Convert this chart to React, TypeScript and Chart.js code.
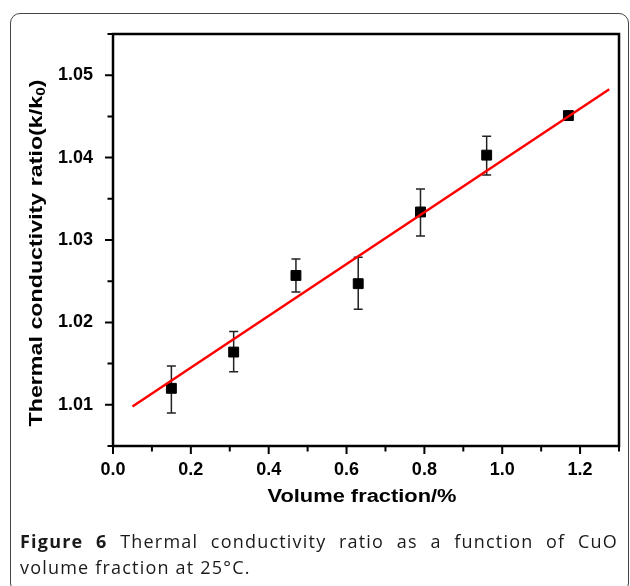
import { useEffect, useRef } from 'react';
import { Chart, registerables } from 'chart.js';

Chart.register(...registerables);

// ---- data ----
const volumeFraction = [0.15, 0.31, 0.47, 0.63, 0.79, 0.96, 1.17];
const conductivityRatio = [1.012, 1.0164, 1.0257, 1.0247, 1.0334, 1.0403, 1.0451];
const errorLow = [1.009, 1.014, 1.0237, 1.0216, 1.0305, 1.0379, 1.0446];
const errorHigh = [1.0147, 1.0189, 1.0277, 1.0279, 1.0362, 1.0426, 1.0456];
const fitX = [0.05, 1.275];
const fitY = [1.0098, 1.0483];
const xMajorTicks = [0, 0.2, 0.4, 0.6, 0.8, 1.0, 1.2];
const xTickLabels = ['0.0', '0.2', '0.4', '0.6', '0.8', '1.0', '1.2'];
const yMajorTicks = [1.01, 1.02, 1.03, 1.04, 1.05];
const yTickLabels = ['1.01', '1.02', '1.03', '1.04', '1.05'];
const xTitle = 'Volume fraction/%';
const yTitleMain = 'Thermal conductivity ratio(k/k';
const yTitleSub = '0';
const yTitleEnd = ')';

const FONT = '"Liberation Sans", Arial, sans-serif';

const majorIndex = (list: number[], v: number) =>
  list.findIndex((t) => Math.abs(t - v) < 1e-6);

const decorPlugin = {
  id: 'decor',
  beforeDatasetsDraw(chart: any) {
    const { ctx, scales } = chart;
    const x = scales.x;
    const y = scales.y;
    ctx.save();
    ctx.strokeStyle = '#222';
    ctx.lineWidth = 1.5;
    volumeFraction.forEach((v, i) => {
      const px = x.getPixelForValue(v);
      const top = y.getPixelForValue(errorHigh[i]);
      const bot = y.getPixelForValue(errorLow[i]);
      ctx.beginPath();
      ctx.moveTo(px, top);
      ctx.lineTo(px, bot);
      ctx.moveTo(px - 4.5, top);
      ctx.lineTo(px + 4.5, top);
      ctx.moveTo(px - 4.5, bot);
      ctx.lineTo(px + 4.5, bot);
      ctx.stroke();
    });
    ctx.restore();
  },
  afterDraw(chart: any) {
    const { ctx, chartArea: a, scales } = chart;
    const x = scales.x;
    const y = scales.y;
    ctx.save();
    // frame
    ctx.strokeStyle = '#000';
    ctx.lineWidth = 2.5;
    ctx.strokeRect(a.left, a.top, a.right - a.left, a.bottom - a.top);
    // ticks
    ctx.lineWidth = 2;
    ctx.beginPath();
    x.ticks.forEach((t: any) => {
      const px = x.getPixelForValue(t.value);
      const len = majorIndex(xMajorTicks, t.value) >= 0 ? 8 : 5.5;
      ctx.moveTo(px, a.bottom);
      ctx.lineTo(px, a.bottom + len);
    });
    y.ticks.forEach((t: any) => {
      const py = y.getPixelForValue(t.value);
      const len = majorIndex(yMajorTicks, t.value) >= 0 ? 8 : 5.5;
      ctx.moveTo(a.left, py);
      ctx.lineTo(a.left - len, py);
    });
    ctx.stroke();

    // x title
    ctx.fillStyle = '#000';
    ctx.font = `bold 18px ${FONT}`;
    ctx.textBaseline = 'middle';
    ctx.textAlign = 'left';
    const xw = ctx.measureText(xTitle).width;
    const xs = 189 / xw;
    ctx.save();
    ctx.translate((a.left + a.right) / 2 - 4, 497);
    ctx.scale(xs, 1);
    ctx.fillText(xTitle, -xw / 2, 0);
    ctx.restore();

    // y title with subscript
    ctx.font = `bold 18px ${FONT}`;
    const w1 = ctx.measureText(yTitleMain).width;
    const w3 = ctx.measureText(yTitleEnd).width;
    ctx.font = `bold 12px ${FONT}`;
    const w2 = ctx.measureText(yTitleSub).width;
    const total = w1 + w2 + w3;
    const ys = 347 / total;
    ctx.save();
    ctx.translate(37, 253);
    ctx.rotate(-Math.PI / 2);
    ctx.scale(ys, 1);
    let cx = -total / 2;
    ctx.font = `bold 18px ${FONT}`;
    ctx.fillText(yTitleMain, cx, 0);
    cx += w1;
    ctx.font = `bold 12px ${FONT}`;
    ctx.fillText(yTitleSub, cx, 5);
    cx += w2;
    ctx.font = `bold 18px ${FONT}`;
    ctx.fillText(yTitleEnd, cx, 0);
    ctx.restore();

    ctx.restore();
  },
};

export default function App() {
  const canvasRef = useRef<HTMLCanvasElement | null>(null);

  useEffect(() => {
    if (!canvasRef.current) return;
    const chart = new Chart(canvasRef.current, {
      type: 'scatter',
      data: {
        datasets: [
          {
            label: 'fit',
            data: fitX.map((v, i) => ({ x: v, y: fitY[i] })),
            showLine: true,
            borderColor: '#ff0000',
            borderWidth: 2.5,
            pointRadius: 0,
          },
          {
            label: 'measured',
            data: volumeFraction.map((v, i) => ({ x: v, y: conductivityRatio[i] })),
            pointStyle: 'rect',
            pointRadius: 7,
            backgroundColor: '#000',
            borderColor: '#000',
            borderWidth: 1,
          },
        ],
      },
      options: {
        animation: false,
        responsive: true,
        maintainAspectRatio: false,
        layout: { padding: { top: 34, right: 11, left: 0, bottom: 0 } },
        plugins: { legend: { display: false }, tooltip: { enabled: false } },
        scales: {
          x: {
            type: 'linear',
            min: 0,
            max: 1.3,
            grid: { display: false },
            border: { display: false },
            afterFit: (s: any) => {
              s.height = 74;
            },
            ticks: {
              stepSize: 0.1,
              autoSkip: false,
              maxRotation: 0,
              padding: 5,
              color: '#000',
              font: { family: FONT, size: 18, weight: 'bold' },
              callback: (v: any) => {
                const i = majorIndex(xMajorTicks, Number(v));
                return i >= 0 ? xTickLabels[i] : '';
              },
            },
          },
          y: {
            type: 'linear',
            min: 1.005,
            max: 1.055,
            grid: { display: false },
            border: { display: false },
            afterFit: (s: any) => {
              s.width = 113;
            },
            ticks: {
              stepSize: 0.005,
              autoSkip: false,
              padding: 12,
              color: '#000',
              font: { family: FONT, size: 18, weight: 'bold' },
              callback: (v: any) => {
                const i = majorIndex(yMajorTicks, Number(v));
                return i >= 0 ? yTickLabels[i] : '';
              },
            },
          },
        },
      } as any,
      plugins: [decorPlugin as any],
    });
    return () => chart.destroy();
  }, []);

  return (
    <>
      <div
        style={{
          position: 'fixed',
          left: 10,
          top: 13,
          width: 619,
          height: 580,
          border: '1.5px solid #444',
          borderRadius: 10,
          boxSizing: 'border-box',
        }}
      />
      <div style={{ position: 'fixed', left: 0, top: 0, width: 630, height: 520 }}>
        <canvas ref={canvasRef} />
      </div>
      <div
        style={{
          position: 'fixed',
          left: 20,
          top: 528,
          width: 598,
          fontFamily: '"Open Sans", sans-serif',
          fontSize: 18,
          letterSpacing: '1.2px',
          lineHeight: '26px',
          color: '#1a1a1a',
        }}
      >
        <div style={{ textAlign: 'justify', textAlignLast: 'justify', whiteSpace: 'nowrap' as any }}>
          <b>Figure 6</b> Thermal conductivity ratio as a function of CuO
        </div>
        <div>volume fraction at 25°C.</div>
      </div>
    </>
  );
}
